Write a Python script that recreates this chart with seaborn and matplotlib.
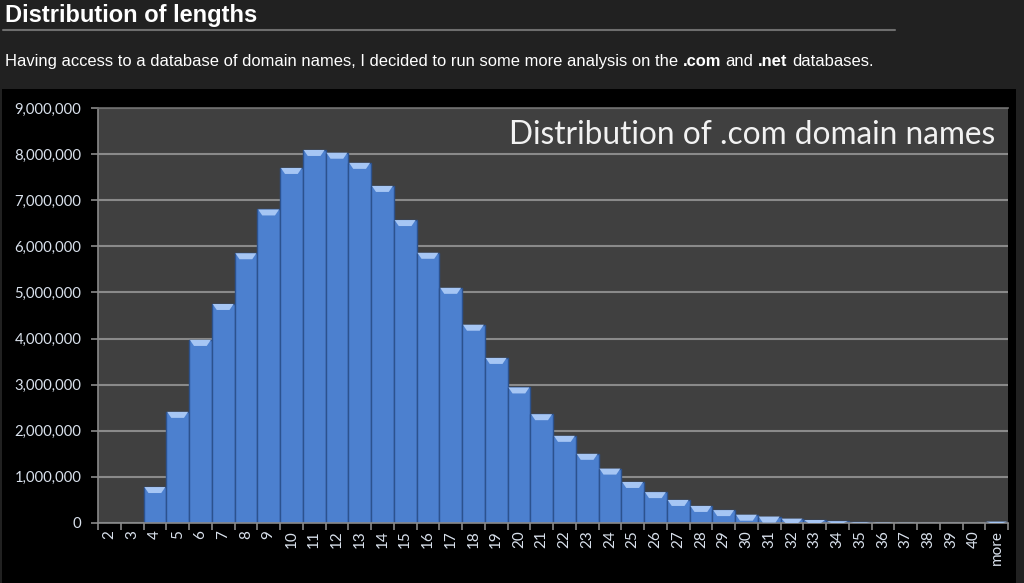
import matplotlib
matplotlib.use("Agg")
import matplotlib.pyplot as plt
import seaborn as sns
import pandas as pd
from matplotlib.patches import Polygon
from matplotlib.lines import Line2D
from matplotlib.ticker import FuncFormatter

# ---- data ----
lengths = [str(i) for i in range(2, 41)] + ["more"]
counts = [0, 0, 780000, 2410000, 3970000, 4750000, 5850000, 6800000,
          7700000, 8090000, 8030000, 7810000, 7310000, 6570000, 5860000,
          5100000, 4300000, 3580000, 2940000, 2360000, 1890000, 1500000,
          1180000, 890000, 670000, 500000, 370000, 280000, 180000, 140000,
          95000, 65000, 40000, 15000, 8000, 4000, 2000, 1000, 500, 30000]
y_ticks = [0, 1000000, 2000000, 3000000, 4000000, 5000000, 6000000,
           7000000, 8000000, 9000000]
page_title = "Distribution of lengths"
chart_title = "Distribution of .com domain names"
paragraph = [("Having access to a database of domain names, I decided to run some more analysis on the", "normal"),
             (".com", "bold"), ("and", "normal"), (".net", "bold"), ("databases.", "normal")]

sns.set_theme(style="dark")
plt.rcParams['font.family'] = ['Lato', 'DejaVu Sans']

W, H = 1024, 583
fig = plt.figure(figsize=(W / 100, H / 100), dpi=100, facecolor="#212121")
bg = fig.add_axes([2 / W, 0, (1016 - 2) / W, (H - 89) / H], zorder=-10)
bg.set_facecolor("black")
bg.set_xticks([])
bg.set_yticks([])
for s in bg.spines.values():
    s.set_visible(False)

ax = fig.add_axes([98 / W, (H - 523) / H, 910 / W, 415 / H], zorder=1)
ax.set_facecolor("#404040")

df = pd.DataFrame({"length": lengths, "count": counts})
sns.barplot(data=df, x="length", y="count", ax=ax, color="#4c80cf",
            width=1.0, edgecolor="#2c528e", linewidth=1.0, saturation=1)

# bevel caps on bar tops
cap_h = 6 * 9e6 / 415
for p in list(ax.patches):
    h = p.get_height()
    if h <= 0:
        continue
    x0, w = p.get_x(), p.get_width()
    ch = min(cap_h, h)
    inset = 0.22 * w
    ax.add_patch(Polygon([(x0 + 0.04, h), (x0 + w - 0.04, h),
                          (x0 + w - inset, h - ch), (x0 + inset, h - ch)],
                         closed=True, facecolor="#a6c6f4", edgecolor="none",
                         zorder=3))

ax.set_ylim(0, 9e6)
ax.set_xlim(-0.5, len(lengths) - 0.5)
ax.set_yticks(y_ticks)
ax.yaxis.set_major_formatter(FuncFormatter(lambda v, _: f"{int(v):,}"))
ax.yaxis.grid(True, color="#8a8a8a", linewidth=1.5)
ax.xaxis.grid(False)
ax.set_axisbelow(True)

ax.set_xticks(range(len(lengths)))
ax.set_xticklabels(lengths, rotation=90)
ax.set_xticks([i - 0.5 for i in range(len(lengths) + 1)], minor=True)
ax.tick_params(axis="x", which="major", length=0, pad=5, labelsize=11,
               labelcolor="#d9e1ec")
ax.tick_params(axis="x", which="minor", bottom=True, length=5, width=1.2,
               color="#8a8a8a")
ax.tick_params(axis="y", left=True, length=5, width=1.2, color="#8a8a8a",
               pad=7, labelsize=10.7, labelcolor="#d9e1ec")
ax.set_xlabel("")
ax.set_ylabel("")

for side in ["left", "bottom"]:
    ax.spines[side].set_visible(True)
    ax.spines[side].set_color("#8a8a8a")
    ax.spines[side].set_linewidth(1.2)
ax.spines["top"].set_visible(True)
ax.spines["top"].set_color("#6a6a6a")
ax.spines["right"].set_visible(False)

ax.text(0.986, (523 - 144) / 415, chart_title, transform=ax.transAxes,
        ha="right", va="baseline", fontsize=22.8, color="#f2f2f2", zorder=5)

# ---- page header ----
fig.text(5 / W, 1 - 22 / H, page_title, fontfamily="Liberation Sans",
         fontweight="bold", fontsize=17, color="white", va="baseline")
fig.add_artist(Line2D([3 / W, 895 / W], [1 - 29.5 / H] * 2,
                      color="#6e6e6e", lw=1.5))

renderer = fig.canvas.get_renderer()
FS = 11.9
def text_w(s, weight):
    t = fig.text(0, 0, s, fontfamily="Liberation Sans", fontsize=FS,
                 fontweight=weight)
    w = t.get_window_extent(renderer).width
    t.remove()
    return w
space = text_w("a a", "normal") - text_w("aa", "normal")
x = 5.0
for s, weight in paragraph:
    t = fig.text(x / W, 1 - 66 / H, s, fontfamily="Liberation Sans",
                 fontsize=FS, fontweight=weight, color="white",
                 va="baseline")
    x += t.get_window_extent(renderer).width + space

fig.savefig("out.png", dpi=100, facecolor=fig.get_facecolor())
